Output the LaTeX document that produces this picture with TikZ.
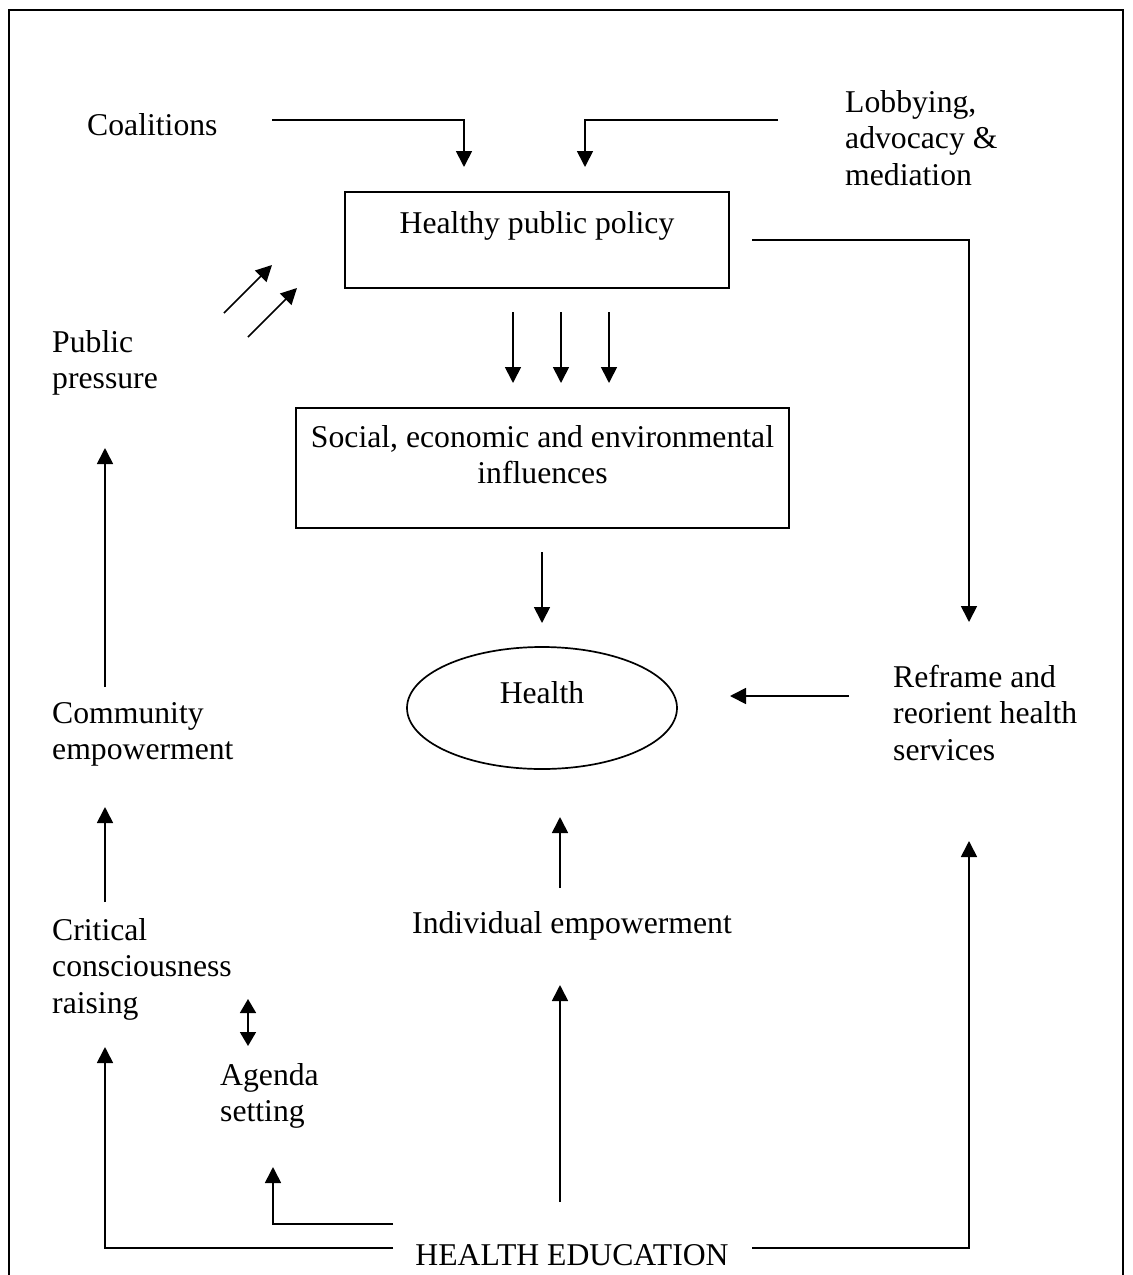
\documentclass[tikz,border=0pt]{standalone}
\usepackage{fontspec}
\setmainfont{Liberation Serif}
\usetikzlibrary{arrows.meta,shapes.geometric}
% multi-line labels whose reference point is the first baseline
\newcommand{\stackL}[1]{\begin{tabular}[t]{@{}l@{}}#1\end{tabular}}
\newcommand{\stackC}[1]{\begin{tabular}[t]{@{}c@{}}#1\end{tabular}}

\begin{document}
\begin{tikzpicture}[x=1pt,y=-1pt,
  every node/.style={font=\fontsize{31.7}{36.8}\selectfont, inner sep=0pt},
  lbl/.style={anchor=base west},
  lblc/.style={anchor=base},
  frame/.style={line width=2.4pt},
  boxed/.style={draw, line width=2pt, rectangle},
  arr/.style={line width=1.7pt, -{Triangle[length=16pt,width=16pt]}},
  dbl/.style={line width=1.7pt, {Triangle[length=14pt,width=16pt]}-{Triangle[length=14pt,width=16pt]}}]

\useasboundingbox (0,0) rectangle (1133,1275);

% outer frame (open at the bottom)
\draw[frame] (9,1275) -- (9,10) -- (1123,10) -- (1123,1275);

% ---- nodes ----
\node[lbl] (coal) at (87,135) {Coalitions};
\node[lbl] (lobby) at (845,112) {\stackL{Lobbying,\\advocacy \&\\mediation}};
\node[boxed, minimum width=384pt, text height=41pt, text depth=55pt] (hpp) at (537,240) {Healthy public policy};
\node[lbl] (press) at (52,352) {\stackL{Public\\pressure}};
\node[boxed, minimum width=493pt, text height=39pt, text depth=81pt] (soc) at (542.5,468)
  {\stackC{Social, economic and environmental\\influences}};
\node[ellipse, draw, line width=1.7pt, minimum width=270pt, minimum height=122pt,
      text height=22pt, text depth=32pt] (health) at (542,708) {Health};
\node[lbl] (reframe) at (893,687) {\stackL{Reframe and\\reorient health\\services}};
\node[lbl] (comm) at (52,723) {\stackL{Community\\empowerment}};
\node[lblc] (indiv) at (572,933) {Individual empowerment};
\node[lbl] (crit) at (52,940) {\stackL{Critical\\consciousness\\raising}};
\node[lbl] (agenda) at (220,1085) {\stackL{Agenda\\setting}};
\node[lblc] (hed) at (572,1265) {HEALTH EDUCATION};

% ---- connector end points ----
\coordinate (coalS) at (272,120);
\coordinate (coalT) at (464,167);
\coordinate (lobS) at (778,120);
\coordinate (lobT) at (585,167);
\coordinate (hppR) at (752,240);
\coordinate (refT) at (969,622);
\coordinate (socB) at (542,552);
\coordinate (healthT) at (542,623);
\coordinate (refL) at (849,696);
\coordinate (healthR) at (730,696);
\coordinate (indT) at (560,888);
\coordinate (healthB) at (560,817);
\coordinate (hedT) at (560,1202);
\coordinate (indB) at (560,985);
\coordinate (hedR) at (752,1248);
\coordinate (refB) at (969,841);
\coordinate (hedL1) at (393,1224);
\coordinate (agB) at (273,1167);
\coordinate (hedL2) at (393,1248);
\coordinate (critB) at (105,1047);
\coordinate (critT) at (105,902);
\coordinate (commB) at (105,807);
\coordinate (commT) at (105,687);
\coordinate (pressB) at (105,448);

% ---- connectors ----
\draw[arr] (coalS) -| (coalT);
\draw[arr] (lobS) -| (lobT);
\foreach \x in {513,561,609}
  \draw[arr] (\x,312) -- (\x,383);
\draw[arr] (hppR) -| (refT);
\draw[arr] (socB) -- (healthT);
\draw[arr] (refL) -- (healthR);
\draw[arr] (indT) -- (healthB);
\draw[arr] (hedT) -- (indB);
\draw[arr] (hedR) -| (refB);
\draw[arr] (hedL1) -| (agB);
\draw[arr] (hedL2) -| (critB);
\draw[arr] (critT) -- (commB);
\draw[arr] (commT) -- (pressB);
\draw[arr] (224,313) -- (272,265);
\draw[arr] (248,337) -- (297,288);
\draw[dbl] (248,999) -- (248,1046);

\end{tikzpicture}
\end{document}
